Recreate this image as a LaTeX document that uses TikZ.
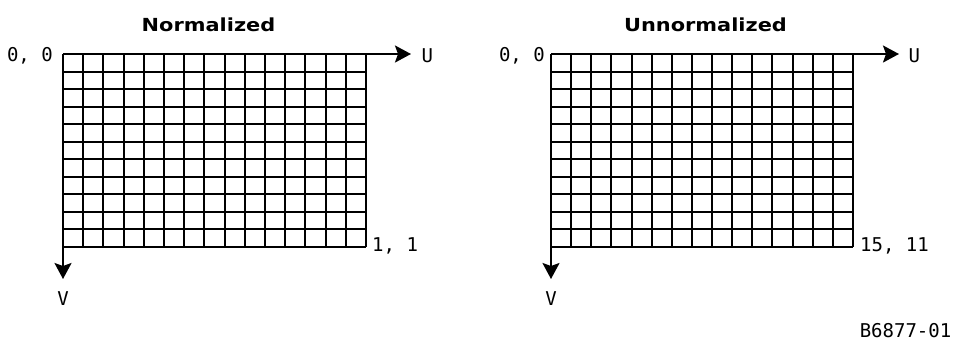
\documentclass[tikz,border=0pt]{standalone}
\usepackage{fontspec}
\setmainfont{DejaVu Sans}
\setsansfont{DejaVu Sans}
\setmonofont{DejaVu Sans Mono}
\usetikzlibrary{arrows.meta}
\begin{document}
\begin{tikzpicture}[x=1pt,y=-1pt,
  gridline/.style={line width=2pt, black},
  axis/.style={line width=2pt, black, -{Stealth[length=16pt,width=17pt,inset=3pt]}},
  lbl/.style={inner sep=0pt, font=\ttfamily\fontsize{19}{19}\selectfont},
  ttl/.style={inner sep=0pt, anchor=base, font=\sffamily\bfseries\fontsize{18}{18}\selectfont}]
\useasboundingbox (0,0) rectangle (954,341);
% left grid
\foreach \i in {0,...,15} \draw[gridline] ({63+round(\i*20.2)},54) -- ({63+round(\i*20.2)},247);
\foreach \j in {0,...,11} \draw[gridline] (63,{54+round(\j*17.545)}) -- (366,{54+round(\j*17.545)});
% right grid
\foreach \i in {0,...,15} \draw[gridline] ({551+round(\i*20.133)},54) -- ({551+round(\i*20.133)},247);
\foreach \j in {0,...,11} \draw[gridline] (551,{54+round(\j*17.545)}) -- (853,{54+round(\j*17.545)});
% axes
\coordinate (o1) at (63,54);
\coordinate (u1) at (411,54);
\coordinate (v1) at (63,279);
\coordinate (o2) at (551,54);
\coordinate (u2) at (899,54);
\coordinate (v2) at (551,279);
\draw[axis] (o1) -- (u1);
\draw[axis] (o1) -- (v1);
\draw[axis] (o2) -- (u2);
\draw[axis] (o2) -- (v2);
% labels
\node[ttl] (t1) at (208.5,31) {\scalebox{1.16}[1]{Normalized}};
\node[ttl] (t2) at (705.5,31) {\scalebox{1.16}[1]{Unnormalized}};
\node[lbl, anchor=base east] (z1) at (53,61) {0, 0};
\node[lbl, anchor=base east] (z2) at (545,61) {0, 0};
\node[lbl, anchor=base west] (U1) at (421.5,62) {U};
\node[lbl, anchor=base west] (U2) at (908.5,62) {U};
\node[lbl, anchor=base] (V1) at (63,305) {V};
\node[lbl, anchor=base] (V2) at (551,305) {V};
\node[lbl, anchor=base west] (e1) at (372,251) {1, 1};
\node[lbl, anchor=base west] (e2) at (860,251) {15, 11};
\node[lbl, anchor=base east] (id) at (951.5,337.5) {B6877-01};
\end{tikzpicture}
\end{document}
